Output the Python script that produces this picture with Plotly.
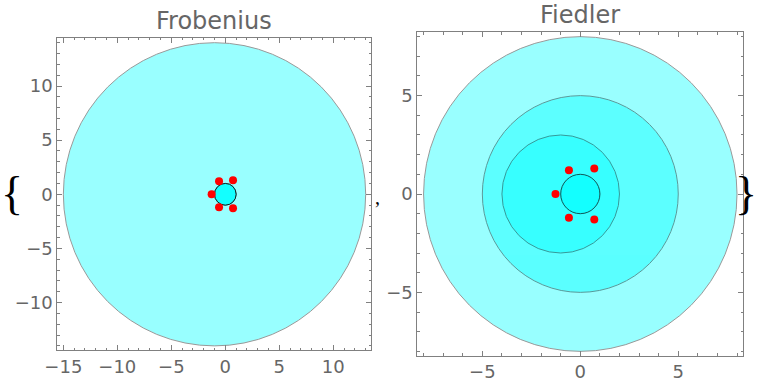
import plotly.graph_objects as go

# Gershgorin disks (center_re, radius) and eigenvalues of x^5+x^4+2x^3+3x^2+4x+5
frob_centers = [-1, 0, 0, 0, 0]
frob_radii = [14, 1, 1, 1, 1]
fied_centers = [0, 0, -1, 0, 0]
fied_radii = [8, 5, 3, 1, 1]
eig_re = [-1.266, -0.581, -0.581, 0.714, 0.714]
eig_im = [0.0, 1.207, -1.207, 1.300, -1.300]

frob_xticks = [-15, -10, -5, 0, 5, 10]
frob_yticks = [-10, -5, 0, 5, 10]
fied_ticks = [-5, 0, 5]

W, H = 758, 388
fig = go.Figure()

def shapes_for(centers, radii, xr, yr):
    out = []
    for c, r in zip(centers, radii):
        out.append(dict(type="circle", xref=xr, yref=yr,
                        x0=c - r, x1=c + r, y0=-r, y1=r,
                        fillcolor="rgb(0,255,255)", opacity=0.4,
                        line=dict(color="black", width=1), layer="below"))
    return out

fig.add_trace(go.Scatter(x=eig_re, y=eig_im, mode="markers", xaxis="x", yaxis="y",
                         marker=dict(color="red", size=8), showlegend=False))
fig.add_trace(go.Scatter(x=eig_re, y=eig_im, mode="markers", xaxis="x2", yaxis="y2",
                         marker=dict(color="red", size=8), showlegend=False))

shapes = shapes_for(frob_centers, frob_radii, "x", "y") + shapes_for(fied_centers, fied_radii, "x2", "y2")

axcommon = dict(showgrid=False, zeroline=False, showline=True, linecolor="#808080",
                linewidth=1, mirror="ticks", ticks="inside", ticklen=5, tickcolor="#808080",
                tickfont=dict(family="DejaVu Sans", size=18, color="#666666"),
                minor=dict(dtick=1, ticks="inside", ticklen=2.5, tickcolor="#808080", showgrid=False),
                automargin=False, fixedrange=True)

def ann(text, x, y, size, color, family, xanchor="center"):
    return dict(text=text, x=x / W, y=1 - y / H, xref="paper", yref="paper",
                xanchor=xanchor, yanchor="middle", showarrow=False, borderpad=0,
                font=dict(family=family, size=size, color=color))

fig.update_layout(
    width=W, height=H, margin=dict(l=0, r=0, t=0, b=0, autoexpand=False),
    plot_bgcolor="white", paper_bgcolor="white",
    shapes=shapes,
    xaxis=dict(domain=[57.3 / W, 371.3 / W], range=[-15.56, 13.52], anchor="y",
               tickmode="array", tickvals=frob_xticks, **axcommon),
    yaxis=dict(domain=[1 - 350 / H, 1 - 37.7 / H], range=[-14.38, 14.46], anchor="x",
               tickmode="array", tickvals=frob_yticks, **axcommon),
    xaxis2=dict(domain=[417.3 / W, 743.3 / W], range=[-8.32, 8.32], anchor="y2",
                tickmode="array", tickvals=fied_ticks, **axcommon),
    yaxis2=dict(domain=[1 - 355.7 / H, 1 - 32.3 / H], range=[-8.22, 8.22], anchor="x2",
                tickmode="array", tickvals=fied_ticks, **axcommon),
    annotations=[
        ann("Frobenius", 214.3, 21, 24, "#666666", "DejaVu Sans"),
        ann("Fiedler", 580.3, 15, 24, "#666666", "DejaVu Sans"),
        ann("{", 0, 193, 46, "black", "Liberation Serif", "left"),
        ann(",", 377, 197, 20, "black", "Liberation Serif"),
        ann("}", 758, 193, 46, "black", "Liberation Serif", "right"),
    ],
)

fig.write_html("out.html")
